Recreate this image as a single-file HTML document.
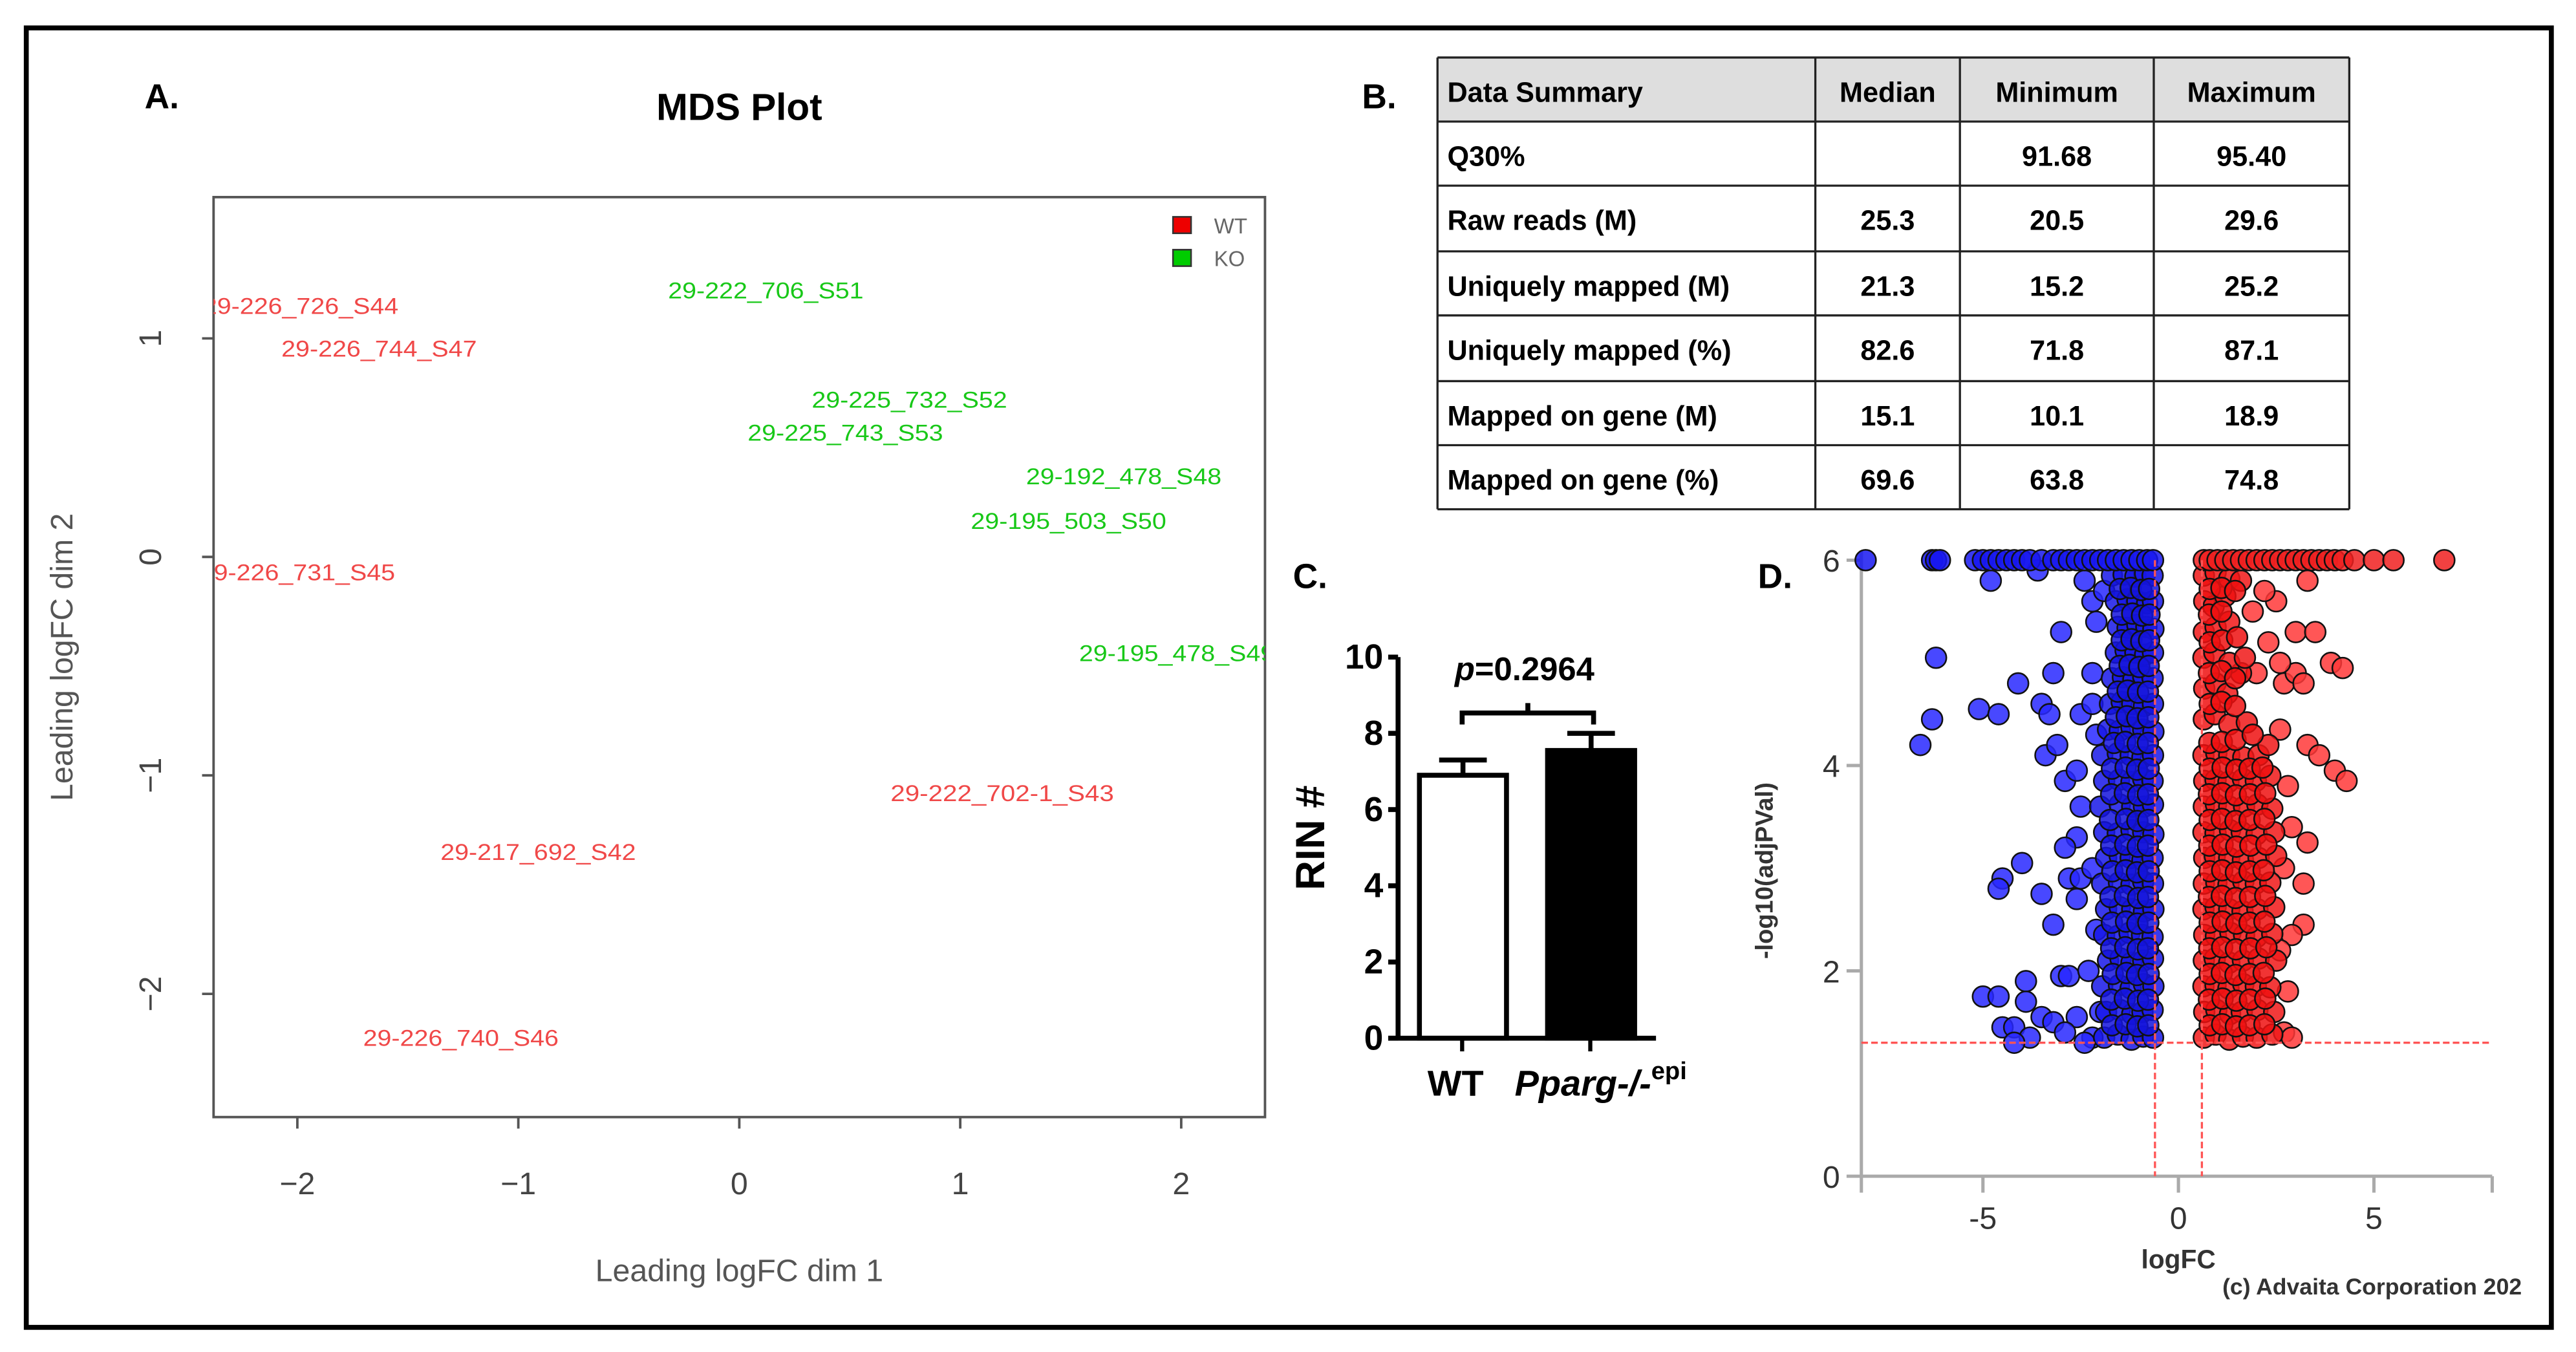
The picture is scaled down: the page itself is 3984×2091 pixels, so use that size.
<!DOCTYPE html>
<html><head><meta charset="utf-8">
<style>
html,body{margin:0;padding:0;background:#fff;}
svg{display:block;}
text{font-family:"Liberation Sans",sans-serif;}
</style></head>
<body>
<svg id="fig" width="3984" height="2091" viewBox="0 0 1568 823" preserveAspectRatio="none" xmlns="http://www.w3.org/2000/svg">
<rect x="0" y="0" width="1568" height="823" fill="#fff"/>
<rect x="16" y="17" width="1537" height="791" fill="none" stroke="#000" stroke-width="3"/>

<!-- Panel A -->
<g>
<text x="88" y="66" font-size="21" font-weight="bold">A.</text>
<text x="450" y="73" font-size="23" font-weight="bold" text-anchor="middle">MDS Plot</text>
<rect x="130" y="120" width="640" height="560" fill="none" stroke="#555" stroke-width="1.5"/>
<g id="mdsAxes"></g>
<g id="mdsLabels"></g>
<rect x="714" y="132" width="11" height="10" fill="#e00" stroke="#333" stroke-width="1"/>
<text x="739" y="142" font-size="13" fill="#666">WT</text>
<rect x="714" y="152" width="11" height="10" fill="#0c0" stroke="#333" stroke-width="1"/>
<text x="739" y="162" font-size="13" fill="#666">KO</text>
<text x="450" y="780" font-size="19" fill="#555" text-anchor="middle">Leading logFC dim 1</text>
<text transform="translate(44,400) rotate(-90)" font-size="19" fill="#555" text-anchor="middle">Leading logFC dim 2</text>
</g>

<!-- Panel B -->
<g>
<text x="829" y="66" font-size="21" font-weight="bold">B.</text>
<g id="table"></g>
</g>

<!-- Panel C -->
<g>
<text x="787" y="358" font-size="21" font-weight="bold">C.</text>
<g id="rin"></g>
<text transform="translate(806,510) rotate(-90)" font-size="25" font-weight="bold" text-anchor="middle">RIN #</text>
<text x="928" y="414" font-size="20" font-weight="bold" text-anchor="middle"><tspan font-style="italic">p</tspan>=0.2964</text>
<path d="M890 441 V434 H970 V441 M930 434 V428" fill="none" stroke="#000" stroke-width="3"/>
<text x="886" y="667" font-size="22" font-weight="bold" text-anchor="middle">WT</text>
<text x="922" y="667" font-size="22" font-weight="bold" font-style="italic">Pparg-/-<tspan font-style="normal" font-size="15" dy="-10">epi</tspan></text>
</g>

<!-- Panel D -->
<g>
<text x="1070" y="358" font-size="21" font-weight="bold">D.</text>
<g id="volcano"></g>
<text x="1326" y="772" font-size="16" font-weight="bold" fill="#333" text-anchor="middle">logFC</text>
<text transform="translate(1079,530) rotate(-90)" font-size="15" font-weight="bold" fill="#333" text-anchor="middle">-log10(adjPVal)</text>
<text x="1535" y="788" font-size="14" font-weight="bold" fill="#333" text-anchor="end">(c) Advaita Corporation 202</text>
</g>
</svg>

<script>
const NS="http://www.w3.org/2000/svg";
function mk(tag,attrs,parent,txt){const e=document.createElementNS(NS,tag);for(const k in attrs)e.setAttribute(k,attrs[k]);if(txt!==undefined)e.textContent=txt;parent.appendChild(e);return e;}

/* ---------- Panel A data ---------- */
const mdsNames=["29-226_726_S44","29-226_744_S47","29-222_706_S51","29-225_732_S52","29-225_743_S53","29-192_478_S48","29-195_503_S50","29-226_731_S45","29-195_478_S49","29-222_702-1_S43","29-217_692_S42","29-226_740_S46"];
const mdsDim1=[-1.985,-1.63,0.12,0.77,0.48,1.74,1.49,-2.0,1.98,1.19,-0.91,-1.26];
const mdsDim2=[1.15,0.955,1.22,0.72,0.57,0.37,0.165,-0.07,-0.44,-1.08,-1.35,-2.2];
const mdsGroup=["WT","WT","KO","KO","KO","KO","KO","WT","KO","WT","WT","WT"];
const mdsXTicks=[-2,-1,0,1,2];
const mdsYTicks=[-2,-1,0,1];

const mx=v=>450+v*134.5, my=v=>339-v*133;
const ax=document.getElementById('mdsAxes');
mdsXTicks.forEach(t=>{
  const l=mk('line',{x1:mx(t),x2:mx(t),y1:680,y2:687,stroke:'#555','stroke-width':1.5},ax);
  
  
  const tx=mk('text',{x:mx(t),y:727,'font-size':19,fill:'#444','text-anchor':'middle'},ax,t<0?'\u2212'+(-t):String(t));
  
  
});
mdsYTicks.forEach(t=>{
  const l=mk('line',{x1:123,x2:130,y1:my(t),y2:my(t),stroke:'#555','stroke-width':1.5},ax);
  
  
  const tx=mk('text',{transform:`translate(98,${my(t)}) rotate(-90)`,'font-size':19,fill:'#444','text-anchor':'middle'},ax,t<0?'\u2212'+(-t):String(t));
  
  
});
const lb=document.getElementById('mdsLabels');
const clip=mk('clipPath',{id:'mdsClip'},lb);mk('rect',{x:130,y:120,width:640,height:560},clip);
const lg=mk('g',{'clip-path':'url(#mdsClip)'},lb);
mdsNames.forEach((n,i)=>{
  const w=n.length>14?136:119;
  const t=mk('text',{x:mx(mdsDim1[i]),y:my(mdsDim2[i])+5,'font-size':14,fill:mdsGroup[i]==='WT'?'#f04848':'#18c818','text-anchor':'middle',textLength:w,lengthAdjust:'spacingAndGlyphs'},lg,n);
  
  
});

/* ---------- Panel B table ---------- */
const tableHeader=["Data Summary","Median","Minimum","Maximum"];
const tableRows=[["Q30%","","91.68","95.40"],["Raw reads (M)","25.3","20.5","29.6"],["Uniquely mapped (M)","21.3","15.2","25.2"],["Uniquely mapped (%)","82.6","71.8","87.1"],["Mapped on gene (M)","15.1","10.1","18.9"],["Mapped on gene (%)","69.6","63.8","74.8"]];
const tb=document.getElementById('table');
const colX=[875,1105,1193,1311,1430];
const rowY=[35,74,113,153,192,232,271,310];
const hb=mk('rect',{x:875,y:35,width:555,height:39,fill:'#dedede'},tb);


rowY.forEach(y=>mk('line',{x1:875,x2:1430,y1:y,y2:y,stroke:'#222','stroke-width':1.3},tb));
colX.forEach(x=>mk('line',{x1:x,x2:x,y1:35,y2:310,stroke:'#222','stroke-width':1.3},tb));
[tableHeader].concat(tableRows).forEach((r,ri)=>{
  r.forEach((c,ci)=>{
    const y=rowY[ri]+27;
    const x=ci===0?881:(colX[ci]+colX[ci+1])/2;
    const t=mk('text',{x:x,y:y,'font-size':17,'font-weight':'bold','text-anchor':ci===0?'start':'middle'},tb,c);
    
    
  });
});

/* ---------- Panel C data ---------- */
const rinGroups=["WT","Pparg"];
const rinMeans=[6.9,7.55];
const rinErr=[0.4,0.45];
const rinTicks=[0,2,4,6,8,10];
const ry=v=>632-v*23.2;
const rc=document.getElementById('rin');
const barX=[864,942];
rinGroups.forEach((g,i)=>{
  const top=ry(rinMeans[i]);
  const eb=mk('path',{d:`M${barX[i]+26.5} ${top} V${ry(rinMeans[i]+rinErr[i])} M${barX[i]+12} ${ry(rinMeans[i]+rinErr[i])} H${barX[i]+41}`,stroke:'#000','stroke-width':3,fill:'none'},rc);
  
  
  const b=mk('rect',{x:barX[i],y:top,width:53,height:632-top,fill:i===0?'#fff':'#000',stroke:'#000','stroke-width':3},rc);
  
  
});
mk('line',{x1:851,x2:851,y1:400,y2:633,stroke:'#000','stroke-width':3},rc);
mk('line',{x1:845,x2:1008,y1:632,y2:632,stroke:'#000','stroke-width':3},rc);
mk('line',{x1:890,x2:890,y1:632,y2:640,stroke:'#000','stroke-width':2.5},rc);
mk('line',{x1:968,x2:968,y1:632,y2:640,stroke:'#000','stroke-width':2.5},rc);
rinTicks.forEach(t=>{
  mk('line',{x1:845,x2:851,y1:ry(t),y2:ry(t),stroke:'#000','stroke-width':3},rc);
  const tx=mk('text',{x:842,y:ry(t)+7,'font-size':21,'font-weight':'bold','text-anchor':'end'},rc,String(t));
  
  
});

/* ---------- Panel D data ---------- */
const volXTicks=[-5,0,5];
const volYTicks=[0,2,4,6];
const fcCutoff=0.6;
const pCutoff=1.3;
const blueTop=[-8,-6.3,-6.2,-6.1,-5.2,-5,-4.8,-4.6,-4.4,-4.2,-4,-3.8,-3.5,-3.2,-3,-2.8,-2.6,-2.4,-2.2,-2,-1.8,-1.6,-1.4,-1.2,-1,-0.8,-0.65];
const redTop=[0.65,0.8,1,1.2,1.4,1.6,1.8,2,2.2,2.4,2.6,2.8,3,3.2,3.4,3.6,3.8,4,4.2,4.5,5,5.5,6.8];
const blueScatter=[[-4.8,5.8],[-6.2,5.05],[-6.3,4.45],[-6.6,4.2],[-5.1,4.55],[-4.6,4.5],[-4.1,4.8],[-3.5,4.6],[-3.3,4.5],[-3.2,4.9],[-3,5.3],[-3.4,4.1],[-3.1,4.2],[-2.9,3.85],[-2.6,3.95],[-2.5,3.6],[-2.6,3.3],[-2.9,3.2],[-4,3.05],[-4.5,2.9],[-4.6,2.8],[-3.5,2.75],[-3.2,2.45],[-2.8,2.9],[-2.6,2.7],[-2.5,2.9],[-3,1.95],[-2.8,1.95],[-3.9,1.9],[-5,1.75],[-4.6,1.75],[-3.9,1.7],[-4.5,1.45],[-4.2,1.45],[-3.8,1.35],[-3.5,1.55],[-3.2,1.5],[-2.6,1.55],[-2.9,1.4],[-2.2,1.35],[-2.4,1.3],[-4.2,1.3],[-3.6,5.9],[-2.4,5.8],[-2.2,5.6],[-2.1,5.4],[-1.9,5.7],[-2.2,4.9],[-2.5,4.5],[-2.2,4.6],[-2.1,4.3],[-2.2,3.0],[-2.1,2.4],[-2.3,2.0],[-2.0,1.6]];
const blueDense=[
[-1.9,1.35],[-1.55,1.38],[-1.2,1.33],[-0.9,1.36],[-0.65,1.35],
[-1.85,1.6],[-1.5,1.62],[-1.18,1.58],[-0.92,1.6],[-0.66,1.62],
[-1.95,1.85],[-1.52,1.86],[-1.22,1.83],[-0.88,1.87],[-0.64,1.85],
[-1.8,2.1],[-1.48,2.12],[-1.2,2.08],[-0.9,2.1],[-0.65,2.12],
[-1.9,2.35],[-1.55,2.34],[-1.25,2.37],[-0.93,2.35],[-0.66,2.33],
[-1.85,2.6],[-1.5,2.62],[-1.18,2.6],[-0.88,2.58],[-0.64,2.6],
[-1.95,2.85],[-1.52,2.86],[-1.2,2.84],[-0.9,2.87],[-0.65,2.85],
[-1.85,3.1],[-1.5,3.12],[-1.22,3.1],[-0.92,3.08],[-0.66,3.1],
[-1.9,3.35],[-1.55,3.34],[-1.2,3.37],[-0.9,3.35],[-0.64,3.33],
[-2.0,3.6],[-1.5,3.62],[-1.18,3.6],[-0.88,3.6],[-0.65,3.62],
[-1.9,3.85],[-1.52,3.86],[-1.2,3.84],[-0.9,3.87],[-0.66,3.85],
[-1.95,4.1],[-1.55,4.12],[-1.22,4.1],[-0.92,4.08],[-0.65,4.1],
[-1.8,4.35],[-1.5,4.34],[-1.2,4.37],[-0.9,4.35],[-0.64,4.33],
[-1.75,4.6],[-1.45,4.62],[-1.18,4.6],[-0.88,4.58],[-0.65,4.6],
[-1.7,4.85],[-1.42,4.86],[-1.15,4.84],[-0.9,4.87],[-0.66,4.85],
[-1.6,5.1],[-1.35,5.12],[-1.1,5.1],[-0.85,5.08],[-0.65,5.1],
[-1.55,5.35],[-1.3,5.34],[-1.05,5.37],[-0.82,5.35],[-0.64,5.33],
[-1.6,5.6],[-1.3,5.62],[-1.05,5.6],[-0.8,5.58],[-0.65,5.6],
[-1.7,5.85],[-1.4,5.86],[-1.1,5.84],[-0.85,5.87],[-0.66,5.85]];
const blueDenseOffset=[
[-1.7,1.47],[-1.35,1.48],[-1.05,1.46],[-0.77,1.47],
[-1.72,1.72],[-1.37,1.73],[-1.03,1.71],[-0.78,1.72],
[-1.68,1.97],[-1.33,1.98],[-1.06,1.96],[-0.76,1.97],
[-1.72,2.22],[-1.36,2.23],[-1.04,2.21],[-0.78,2.22],
[-1.7,2.47],[-1.34,2.48],[-1.05,2.46],[-0.77,2.47],
[-1.74,2.72],[-1.37,2.73],[-1.03,2.71],[-0.78,2.72],
[-1.69,2.97],[-1.35,2.98],[-1.06,2.96],[-0.76,2.97],
[-1.72,3.22],[-1.36,3.23],[-1.04,3.21],[-0.78,3.22],
[-1.75,3.47],[-1.34,3.48],[-1.05,3.46],[-0.77,3.47],
[-1.72,3.72],[-1.37,3.73],[-1.03,3.71],[-0.78,3.72],
[-1.7,3.97],[-1.35,3.98],[-1.06,3.96],[-0.76,3.97],
[-1.65,4.22],[-1.36,4.23],[-1.04,4.21],[-0.78,4.22],
[-1.6,4.47],[-1.32,4.48],[-1.05,4.46],[-0.77,4.47],
[-1.55,4.72],[-1.3,4.73],[-1.03,4.71],[-0.78,4.72],
[-1.5,4.97],[-1.25,4.98],[-1.0,4.96],[-0.76,4.97],
[-1.45,5.22],[-1.2,5.23],[-0.95,5.21],[-0.75,5.22],
[-1.45,5.47],[-1.18,5.48],[-0.93,5.46],[-0.74,5.47],
[-1.5,5.72],[-1.22,5.73],[-0.95,5.71],[-0.75,5.72]];
const redScatter=[[3,5.3],[3.5,5.3],[3.9,5],[4.2,4.95],[2.7,4.8],[3,4.9],[3.2,4.8],[2.6,4.35],[3.3,4.2],[3.6,4.1],[4,3.95],[4.3,3.85],[3.3,3.25],[2.9,3.4],[3.2,2.85],[3.2,2.45],[2.9,2.35],[2.8,1.8],[2.7,1.4],[2.9,1.35],[2.5,5.6],[2.2,5.7],[3.3,5.8],[1.9,5.5],[2.3,5.2],[2.6,5.0],[2.0,4.9],[2.8,3.8],[2.7,3.0],[2.6,2.2]];
const redDense=[
[0.65,1.35],[0.95,1.38],[1.3,1.33],[1.65,1.36],[2.0,1.35],[2.4,1.38],
[0.66,1.6],[0.97,1.62],[1.32,1.58],[1.62,1.6],[2.02,1.62],[2.45,1.6],
[0.64,1.85],[0.95,1.86],[1.28,1.83],[1.66,1.87],[1.98,1.85],[2.35,1.84],
[0.65,2.1],[0.93,2.12],[1.3,2.08],[1.65,2.1],[2.05,2.12],[2.5,2.1],
[0.66,2.35],[0.96,2.34],[1.33,2.37],[1.68,2.35],[2.0,2.33],[2.4,2.36],
[0.64,2.6],[0.95,2.62],[1.3,2.6],[1.64,2.58],[2.02,2.6],[2.45,2.62],
[0.65,2.85],[0.97,2.86],[1.28,2.84],[1.66,2.87],[1.98,2.85],[2.35,2.86],
[0.66,3.1],[0.93,3.12],[1.3,3.1],[1.65,3.08],[2.05,3.1],[2.5,3.12],
[0.64,3.35],[0.95,3.34],[1.32,3.37],[1.62,3.35],[2.0,3.33],[2.45,3.35],
[0.65,3.6],[0.96,3.62],[1.3,3.6],[1.68,3.6],[2.02,3.62],[2.4,3.58],
[0.66,3.85],[0.95,3.86],[1.28,3.84],[1.65,3.87],[1.98,3.85],[2.35,3.9],
[0.64,4.1],[0.97,4.12],[1.3,4.1],[1.66,4.08],[2.05,4.1],[2.3,4.2],
[0.65,4.45],[0.93,4.5],[1.3,4.4],[1.75,4.42],
[0.66,4.75],[0.95,4.8],[1.25,4.7],[1.6,4.9],
[0.64,5.05],[0.92,5.1],[1.3,5.0],[1.7,5.05],
[0.65,5.3],[0.95,5.35],[1.3,5.4],
[0.66,5.6],[0.9,5.55],[1.2,5.65],
[0.65,5.85],[0.95,5.88],[1.3,5.82],[1.6,5.8]];
const redDenseOffset=[
[0.8,1.47],[1.12,1.48],[1.47,1.46],[1.82,1.47],[2.2,1.48],
[0.78,1.72],[1.13,1.73],[1.48,1.71],[1.83,1.72],[2.22,1.73],
[0.8,1.97],[1.11,1.98],[1.46,1.96],[1.82,1.97],[2.18,1.98],
[0.79,2.22],[1.12,2.23],[1.47,2.21],[1.84,2.22],[2.25,2.23],
[0.8,2.47],[1.13,2.48],[1.48,2.46],[1.82,2.47],[2.2,2.48],
[0.78,2.72],[1.11,2.73],[1.46,2.71],[1.83,2.72],[2.22,2.73],
[0.8,2.97],[1.12,2.98],[1.47,2.96],[1.82,2.97],[2.18,2.98],
[0.79,3.22],[1.13,3.23],[1.48,3.21],[1.84,3.22],[2.25,3.23],
[0.8,3.47],[1.11,3.48],[1.46,3.46],[1.82,3.47],[2.2,3.48],
[0.78,3.72],[1.12,3.73],[1.47,3.71],[1.83,3.72],[2.22,3.73],
[0.8,3.97],[1.13,3.98],[1.48,3.96],[1.82,3.97],[2.15,3.98],
[0.79,4.22],[1.11,4.23],[1.46,4.25],[1.9,4.3],
[0.8,4.6],[1.1,4.62],[1.45,4.58],
[0.78,4.9],[1.1,4.92],[1.45,4.85],
[0.8,5.2],[1.12,5.22],[1.5,5.25],
[0.78,5.47],[1.1,5.5],
[0.8,5.72],[1.1,5.73],[1.45,5.7]];

const vx=v=>1326+v*23.8, vy=v=>716-v*62.5;
const vg=document.getElementById('volcano');
mk('line',{x1:1133,x2:1133,y1:335,y2:716,stroke:'#aaa','stroke-width':2},vg);
mk('line',{x1:1133,x2:1517,y1:716,y2:716,stroke:'#aaa','stroke-width':2},vg);
mk('line',{x1:1517,x2:1517,y1:716,y2:726,stroke:'#aaa','stroke-width':2},vg);
mk('line',{x1:1133,x2:1133,y1:716,y2:726,stroke:'#aaa','stroke-width':2},vg);
volXTicks.forEach(t=>{
  mk('line',{x1:vx(t),x2:vx(t),y1:716,y2:726,stroke:'#aaa','stroke-width':2},vg);
  const tx=mk('text',{x:vx(t),y:748,'font-size':19,fill:'#333','text-anchor':'middle'},vg,String(t));
  
  
});
volYTicks.forEach(t=>{
  mk('line',{x1:1124,x2:1133,y1:vy(t),y2:vy(t),stroke:'#aaa','stroke-width':2},vg);
  const tx=mk('text',{x:1120,y:vy(t)+7,'font-size':19,fill:'#333','text-anchor':'end'},vg,String(t));
  
  
});
function dot(x,y,col,name){
  const c=mk('circle',{cx:vx(x),cy:vy(y),r:6.3,fill:col,'fill-opacity':0.85,stroke:'#111','stroke-width':1},vg);
  
  
}
blueScatter.forEach(p=>dot(p[0],p[1],'#2828ff','down-gene-point'));
blueDense.forEach(p=>dot(p[0],p[1],'#1818e8','down-gene-point'));
blueDenseOffset.forEach(p=>dot(p[0],p[1],'#1414dc','down-gene-point'));
blueTop.forEach(x=>dot(x,6,'#1818f0','down-gene-point'));
redScatter.forEach(p=>dot(p[0],p[1],'#ff3838','up-gene-point'));
redDense.forEach(p=>dot(p[0],p[1],'#f01818','up-gene-point'));
redDenseOffset.forEach(p=>dot(p[0],p[1],'#ee1010','up-gene-point'));
redTop.forEach(x=>dot(x,6,'#f02020','up-gene-point'));
const th=mk('line',{x1:1133,x2:1517,y1:vy(pCutoff),y2:vy(pCutoff),stroke:'#f55','stroke-width':1.3,'stroke-dasharray':'4,2'},vg);


[-fcCutoff,fcCutoff].forEach(f=>{
  const l=mk('line',{x1:vx(f),x2:vx(f),y1:vy(6),y2:716,stroke:'#f55','stroke-width':1.3,'stroke-dasharray':'4,2'},vg);
  
  
});
</script>
</body></html>
